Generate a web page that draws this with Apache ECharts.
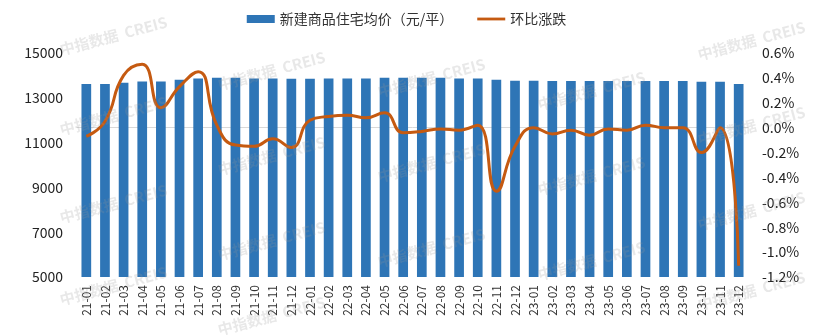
<!DOCTYPE html>
<html><head><meta charset="utf-8">
<script src="https://cdn.jsdelivr.net/npm/echarts@6/dist/echarts.min.js"></script>
<style>html,body{margin:0;padding:0;background:#fff}#c{width:813px;height:336px}</style>
</head><body><div id="c"></div>
<script>
const categories = ['21-01','21-02','21-03','21-04','21-05','21-06','21-07','21-08','21-09','21-10','21-11','21-12',
'22-01','22-02','22-03','22-04','22-05','22-06','22-07','22-08','22-09','22-10','22-11','22-12',
'23-01','23-02','23-03','23-04','23-05','23-06','23-07','23-08','23-09','23-10','23-11','23-12'];
const avgPrice = [13612,13612,13671,13732,13732,13806,13866,13896,13896,13866,13866,13850,
13850,13866,13866,13866,13896,13896,13896,13896,13866,13866,13806,13761,
13761,13746,13746,13746,13746,13746,13746,13746,13746,13716,13716,13612];
const momChange = [-0.07,0.05,0.42,0.51,0.16,0.33,0.45,0.02,-0.14,-0.15,-0.09,-0.16,
0.06,0.09,0.10,0.08,0.12,-0.04,-0.03,-0.01,-0.02,0.02,-0.51,-0.15,
0.00,-0.05,-0.02,-0.06,-0.01,-0.02,0.02,0.00,0.00,-0.20,0.00,-1.11];
const leftTicks = {min:5000, max:15000, interval:2000};
const rightTicks = {min:-1.2, max:0.6, interval:0.2};

const font = '"Noto Sans CJK SC", "Noto Sans", sans-serif';
const wm = [];
const wmPos = [[60,50],[60,130],[60,218],[60,300],[218,85],[218,170],[218,255],[218,330],
[378,92],[378,177],[378,262],[538,105],[538,190],[538,275],[698,55],[698,140],[698,225],[698,305]];
wmPos.forEach(p=>wm.push({type:'text',x:p[0],y:p[1],rotation:0.26,z:100,silent:true,
  style:{text:'中指数据  CREIS',fill:'rgba(150,150,150,0.22)',font:'bold 15px '+font,textVerticalAlign:'middle'}}));

const chart = echarts.init(document.getElementById('c'));
chart.setOption({
  animation:false,
  textStyle:{fontFamily:font},
  legend:{top:7,left:'center',itemGap:24,itemWidth:28,itemHeight:8,
    textStyle:{fontSize:14,color:'#333',fontFamily:font},
    data:[{name:'新建商品住宅均价（元/平）',icon:'rect'},
          {name:'环比涨跌',icon:'path://M0,0 L30,0 L30,3 L0,3 Z'}]},
  grid:{left:77,right:65,top:53,bottom:59},
  xAxis:{type:'category',data:categories,
    axisLine:{lineStyle:{color:'#D9D9D9'}},axisTick:{show:false},
    axisLabel:{rotate:90,fontSize:12,color:'#333',margin:8,interval:0}},
  yAxis:[
    {type:'value',min:leftTicks.min,max:leftTicks.max,interval:leftTicks.interval,
     splitLine:{show:false},axisLine:{show:false},axisTick:{show:false},
     axisLabel:{fontSize:14,color:'#222',margin:14,formatter:v=>String(v)}},
    {type:'value',min:rightTicks.min,max:rightTicks.max,interval:rightTicks.interval,
     splitLine:{show:false},axisLine:{show:false},axisTick:{show:false},
     axisLabel:{fontSize:14,color:'#222',margin:14,formatter:v=>(Math.round(v*10)/10).toFixed(1)+'%'}}
  ],
  series:[
    {name:'新建商品住宅均价（元/平）',type:'bar',data:avgPrice,barWidth:'52%',
     itemStyle:{color:'#2E75B6'}},
    {name:'环比涨跌',type:'line',yAxisIndex:1,data:momChange,smooth:0.5,symbol:'none',
     lineStyle:{color:'#C55A11',width:3},itemStyle:{color:'#C55A11'}}
  ],
  graphic:wm
});
</script></body></html>
